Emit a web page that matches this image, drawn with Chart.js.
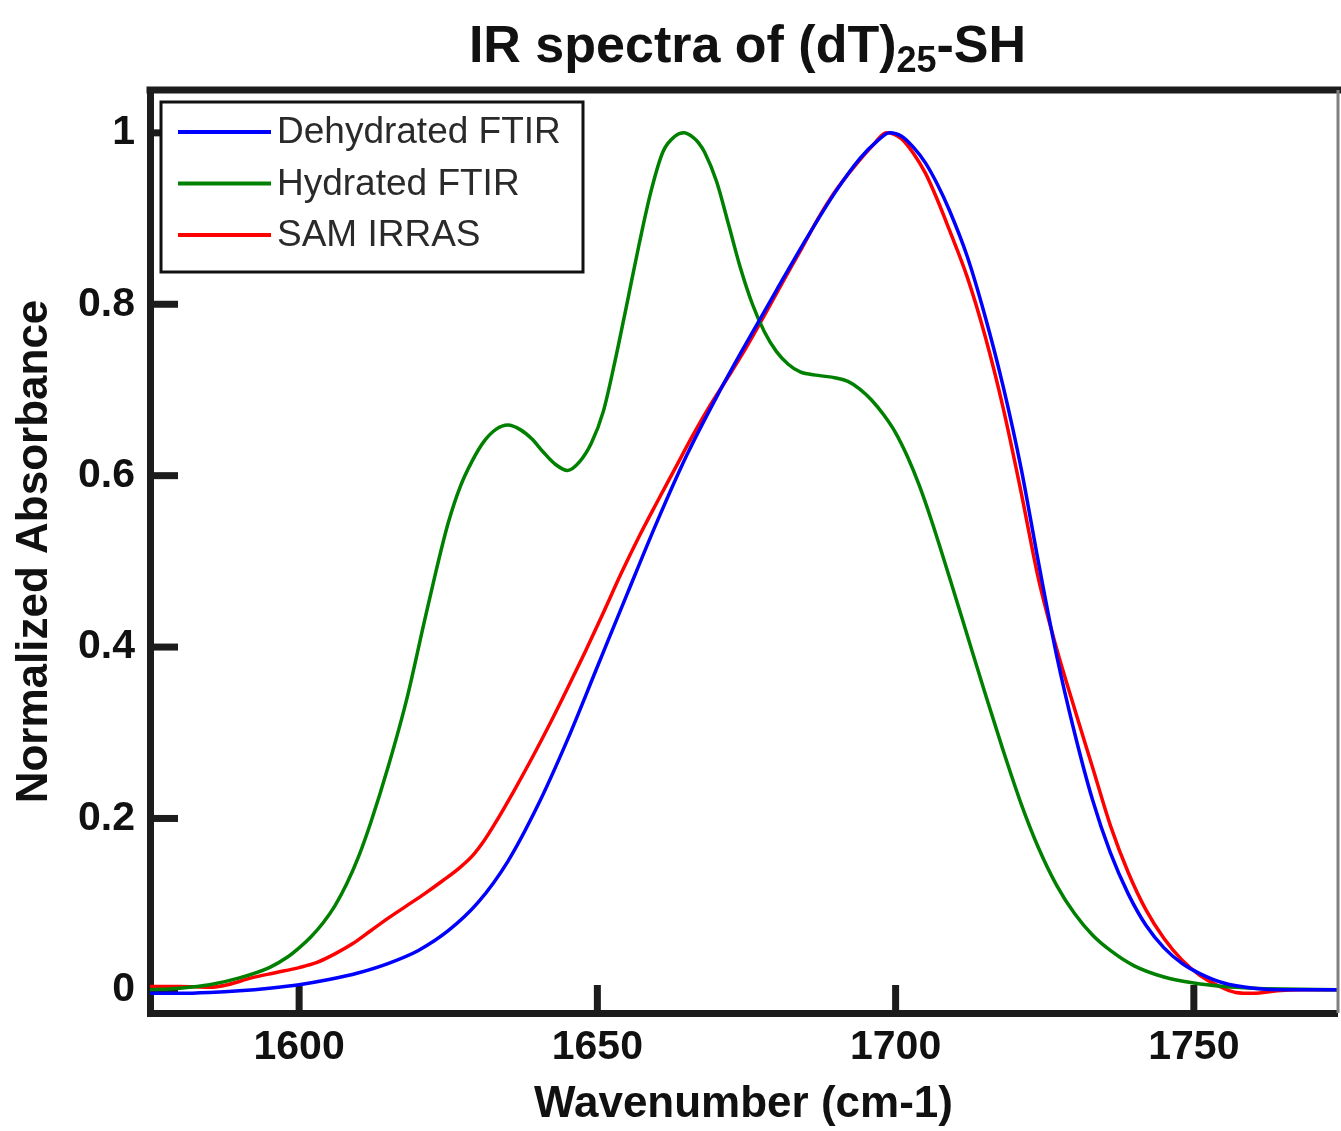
<!DOCTYPE html>
<html>
<head>
<meta charset="utf-8">
<script src="https://cdn.jsdelivr.net/npm/chart.js@4.4.1/dist/chart.umd.min.js"></script>
<style>
html,body{margin:0;padding:0;background:#ffffff;}
canvas{display:block;}
</style>
</head>
<body>
<canvas id="c" width="1341" height="1131"></canvas>
<script>
// ---------- text ----------
const titleMain = "IR spectra of (dT)";
const titleSub = "25";
const titleTail = "-SH";
const xAxisTitle = "Wavenumber (cm-1)";
const yAxisTitle = "Normalized Absorbance";
const seriesNames = ["Dehydrated FTIR", "Hydrated FTIR", "SAM IRRAS"];
const seriesColors = ["#0000ff", "#008000", "#ff0000"];

// ---------- axes ----------
const xMin = 1575, xMax = 1774;
const yMin = -0.027, yMax = 1.05;
const xTicks = [1600, 1650, 1700, 1750];
const yTicks = [0, 0.2, 0.4, 0.6, 0.8, 1];

// ---------- data ----------
const dehydratedX = [1575,1580,1585,1590,1595,1600,1605,1610,1615,1620,1625,1630,1635,1640,1645,1650,1655,1660,1665,1670,1675,1680,1685,1690,1694,1697,1699,1701,1703,1705,1707,1709,1712,1715,1718,1721,1724,1727,1730,1733,1736,1739,1742,1745,1748,1751,1755,1760,1765,1770,1774];
const dehydratedY = [-0.004,-0.004,-0.003,-0.001,0.002,0.006,0.012,0.02,0.031,0.046,0.069,0.102,0.15,0.215,0.292,0.377,0.462,0.546,0.624,0.692,0.755,0.816,0.876,0.932,0.97,0.991,1.0,0.996,0.983,0.965,0.94,0.91,0.856,0.786,0.705,0.61,0.497,0.39,0.3,0.222,0.16,0.112,0.075,0.049,0.031,0.019,0.008,0.002,0.0,0.0,0.0];

const hydratedX = [1575,1580,1585,1590,1595,1598,1600,1602,1604,1606,1608,1610,1612,1615,1618,1621,1623,1625,1627,1629,1631,1633,1635,1637,1639,1641,1643,1645,1647,1649,1651,1653,1655,1657,1659,1661,1663,1664.5,1666,1667,1668,1670,1672,1674,1676,1678,1680,1682,1684,1687,1690,1692,1694,1696,1698,1700,1702,1704,1706,1709,1712,1715,1718,1721,1724,1727,1730,1733,1736,1740,1745,1750,1755,1760,1765,1774];
const hydratedY = [0,0.002,0.006,0.014,0.026,0.038,0.049,0.062,0.078,0.098,0.124,0.156,0.195,0.262,0.338,0.43,0.49,0.545,0.587,0.617,0.64,0.654,0.659,0.654,0.643,0.627,0.613,0.606,0.616,0.638,0.675,0.735,0.802,0.87,0.932,0.978,0.996,1.0,0.995,0.988,0.977,0.943,0.893,0.842,0.8,0.768,0.745,0.73,0.721,0.717,0.714,0.71,0.701,0.688,0.671,0.65,0.622,0.588,0.548,0.482,0.414,0.346,0.28,0.218,0.165,0.122,0.089,0.064,0.046,0.028,0.015,0.008,0.004,0.002,0.001,0.0];

const samX = [1575,1580,1585,1588,1592,1596,1600,1603,1606,1609,1612,1615,1618,1621,1624,1627,1629,1631,1633,1636,1639,1642,1645,1648,1651,1654,1657,1660,1663,1666,1669,1672,1675,1678,1681,1684,1687,1690,1693,1696,1698.5,1701,1703,1705,1707,1709,1712,1715,1718,1721,1724,1727,1730,1733,1736,1739,1742,1745,1748,1751,1754,1757,1760,1764,1768,1774];
const samY = [0.004,0.004,0.003,0.006,0.014,0.02,0.026,0.032,0.042,0.054,0.069,0.084,0.098,0.112,0.127,0.143,0.156,0.174,0.196,0.232,0.27,0.31,0.352,0.395,0.44,0.486,0.529,0.569,0.608,0.647,0.683,0.716,0.75,0.787,0.825,0.862,0.9,0.933,0.96,0.984,1.0,0.993,0.976,0.953,0.922,0.887,0.832,0.763,0.68,0.582,0.478,0.398,0.328,0.26,0.192,0.137,0.093,0.06,0.035,0.017,0.005,-0.003,-0.004,-0.001,0.0,0.0];

// ---------- build ----------
const toPts = (xs, ys) => xs.map((x, i) => ({x: x, y: ys[i]}));
const seriesX = [dehydratedX, hydratedX, samX];
const seriesY = [dehydratedY, hydratedY, samY];

const AXIS_COLOR = '#1c1c1c';
const FONT = '"Liberation Sans", Arial, Helvetica, sans-serif';

const datasets = seriesNames.map((name, i) => ({
  label: name,
  data: toPts(seriesX[i], seriesY[i]),
  borderColor: seriesColors[i],
  backgroundColor: seriesColors[i],
  borderWidth: 3.5,
  pointRadius: 0,
  fill: false,
  cubicInterpolationMode: 'monotone'
}));

const innerTicks = {
  id: 'innerTicks',
  beforeDatasetsDraw(chart) {
    const ctx = chart.ctx, ca = chart.chartArea;
    const xs = chart.scales.x, ys = chart.scales.y;
    const len = 28;
    ctx.save();
    ctx.strokeStyle = AXIS_COLOR;
    ctx.lineWidth = 7;
    ctx.lineCap = 'butt';
    xTicks.forEach(v => {
      const px = xs.getPixelForValue(v);
      ctx.beginPath(); ctx.moveTo(px, ca.bottom); ctx.lineTo(px, ca.bottom - len); ctx.stroke();
    });
    yTicks.forEach(v => {
      const py = ys.getPixelForValue(v);
      ctx.beginPath(); ctx.moveTo(ca.left, py); ctx.lineTo(ca.left + len, py); ctx.stroke();
    });
    ctx.restore();
  }
};

const frameLegendTitle = {
  id: 'frameLegendTitle',
  afterDraw(chart) {
    const ctx = chart.ctx, ca = chart.chartArea;
    ctx.save();
    // top border
    ctx.strokeStyle = AXIS_COLOR;
    ctx.lineWidth = 7;
    ctx.beginPath(); ctx.moveTo(ca.left - 3.5, ca.top); ctx.lineTo(chart.width, ca.top); ctx.stroke();
    // right border
    ctx.strokeStyle = '#808080';
    ctx.lineWidth = 3;
    ctx.beginPath(); ctx.moveTo(ca.right + 1, ca.top); ctx.lineTo(ca.right + 1, ca.bottom); ctx.stroke();

    // legend box
    const bx = ca.left + 11, by = ca.top + 12, bw = 422, bh = 170;
    ctx.fillStyle = '#ffffff';
    ctx.fillRect(bx, by, bw, bh);
    ctx.strokeStyle = '#111111';
    ctx.lineWidth = 3;
    ctx.strokeRect(bx, by, bw, bh);
    ctx.font = '37px ' + FONT;
    ctx.textBaseline = 'middle';
    ctx.textAlign = 'left';
    chart.data.datasets.forEach((ds, i) => {
      const yy = by + 30 + i * 51.5;
      ctx.strokeStyle = ds.borderColor;
      ctx.lineWidth = 4;
      ctx.beginPath(); ctx.moveTo(bx + 17, yy); ctx.lineTo(bx + 110, yy); ctx.stroke();
      ctx.fillStyle = '#2a2a2a';
      ctx.fillText(ds.label, bx + 116, yy + 1);
    });

    // title with subscript
    const fMain = 'bold 52px ' + FONT;
    const fSub = 'bold 36px ' + FONT;
    ctx.font = fMain;
    const w1 = ctx.measureText(titleMain).width;
    const w3 = ctx.measureText(titleTail).width;
    ctx.font = fSub;
    const w2 = ctx.measureText(titleSub).width;
    let x = (ca.left + ca.right) / 2 + 4 - (w1 + w2 + w3) / 2;
    const base = 62;
    ctx.fillStyle = '#111111';
    ctx.textBaseline = 'alphabetic';
    ctx.font = fMain; ctx.fillText(titleMain, x, base); x += w1;
    ctx.font = fSub; ctx.fillText(titleSub, x, base + 10); x += w2;
    ctx.font = fMain; ctx.fillText(titleTail, x, base);
    ctx.restore();
  }
};

new Chart(document.getElementById('c'), {
  type: 'line',
  data: { datasets: datasets },
  options: {
    responsive: false,
    animation: false,
    devicePixelRatio: 1,
    layout: { padding: { top: 90, right: 4, left: 0, bottom: 0 } },
    plugins: {
      legend: { display: false },
      title: { display: false },
      tooltip: { enabled: false }
    },
    scales: {
      x: {
        type: 'linear',
        min: xMin, max: xMax,
        afterBuildTicks: s => { s.ticks = xTicks.map(v => ({value: v})); },
        afterFit: s => { s.height = 118; },
        grid: { display: false, drawTicks: false },
        border: { display: true, color: AXIS_COLOR, width: 7 },
        ticks: {
          color: '#111111',
          font: { family: FONT, size: 41, weight: 'bold' },
          padding: 10,
          maxRotation: 0,
          callback: v => String(v)
        },
        title: {
          display: true, text: xAxisTitle, color: '#111111',
          font: { family: FONT, size: 44, weight: 'bold', lineHeight: 1.2 },
          padding: { top: 0, bottom: 0 }
        }
      },
      y: {
        type: 'linear',
        min: yMin, max: yMax,
        afterBuildTicks: s => { s.ticks = yTicks.map(v => ({value: v})); },
        afterFit: s => { s.width = 150; },
        grid: { display: false, drawTicks: false },
        border: { display: true, color: AXIS_COLOR, width: 7 },
        ticks: {
          color: '#111111',
          font: { family: FONT, size: 41, weight: 'bold' },
          padding: 15,
          callback: v => String(v)
        },
        title: {
          display: true, text: yAxisTitle, color: '#111111',
          font: { family: FONT, size: 44, weight: 'bold', lineHeight: 1.2 },
          padding: { top: 8, bottom: 0 }
        }
      }
    }
  },
  plugins: [innerTicks, frameLegendTitle]
});
</script>
</body>
</html>
